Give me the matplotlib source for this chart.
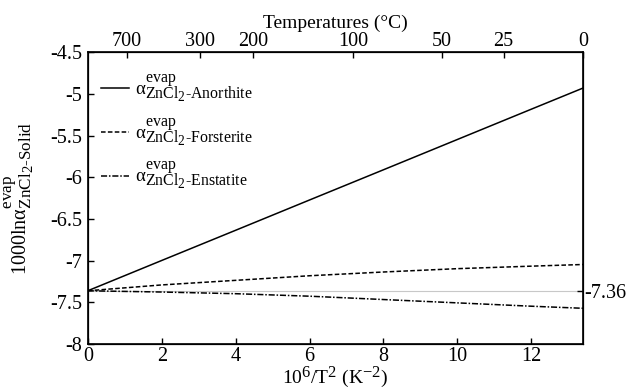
import numpy as np
import matplotlib
matplotlib.use("Agg")
import matplotlib.pyplot as plt
import matplotlib._mathtext as mathtext_impl

plt.rcParams['font.family'] = ['Liberation Serif', 'DejaVu Serif']
plt.rcParams['mathtext.fontset'] = 'custom'
plt.rcParams['mathtext.rm'] = 'Liberation Serif'
plt.rcParams['mathtext.it'] = 'Liberation Serif:italic'
# scripts in the original are nearly full size
mathtext_impl.SHRINK_FACTOR = 0.85

# Data
x = [0, 2, 4, 6, 8, 10, 12, 13.403]
anorthite = [-7.36, -6.997, -6.635, -6.272, -5.91, -5.547, -5.184, -4.93]
forsterite = [-7.36, -7.29, -7.235, -7.18, -7.135, -7.095, -7.065, -7.045]
enstatite = [-7.36, -7.375, -7.395, -7.425, -7.465, -7.505, -7.545, -7.57]
ref_value = -7.36
temps_c = [700, 300, 200, 100, 50, 25, 0]

fs = 14.5
fig = plt.figure(figsize=(6.27, 3.92), dpi=100)
ax = fig.add_axes([0.140, 0.122, 0.790, 0.745])

ax.axhline(ref_value, color='#c8c8c8', lw=0.8, zorder=1)
lab = r'$\mathrm{α}^{\rm evap}_{\rm ZnCl_2\text{-}%s}$'
ax.plot(x, anorthite, color='black', lw=1.1, ls='-', label=lab % 'Anorthite')
ax.plot(x, forsterite, color='black', lw=1.1, ls=(0, (3, 1.5)), label=lab % 'Forsterite')
ax.plot(x, enstatite, color='black', lw=1.1, ls=(0, (4, 1.2, 1, 1.2)), label=lab % 'Enstatite')

ax.set_xlim(0, 1e6 / 273.15 ** 2)
ax.set_ylim(-8, -4.5)
ax.set_xticks([0, 2, 4, 6, 8, 10, 12])
ax.set_yticks([-8, -7.5, -7, -6.5, -6, -5.5, -5, -4.5])
ax.set_yticklabels(['-8', '-7.5', '-7', '-6.5', '-6', '-5.5', '-5', '-4.5'])
ax.set_xticklabels(['0', '2', '4', '6', '8', '10', '12'])
ax.tick_params(direction='in', labelsize=fs, length=4, width=1, pad=2)
ax.tick_params(axis='y', pad=4)
for s in ax.spines.values():
    s.set_linewidth(1.2)

ax.set_xlabel(r'$10^6$/T$^2$ (K$^{-2}$)', fontsize=14, labelpad=-1)
ax.set_ylabel(r'1000ln$\mathrm{α}^{\rm evap}_{\rm ZnCl_2\text{-}Solid}$', fontsize=fs, labelpad=10)

# top temperature axis
top = ax.twiny()
top.set_xlim(ax.get_xlim())
top.set_xticks([1e6 / (t + 273.15) ** 2 for t in temps_c])
top.set_xticklabels([str(t) for t in temps_c])
top.tick_params(direction='in', labelsize=fs, length=4, width=1, pad=1)
top.set_xlabel('Temperatures (°C)', fontsize=14, labelpad=3)

# right reference tick
right = ax.twinx()
right.set_ylim(ax.get_ylim())
right.set_yticks([ref_value])
right.set_yticklabels(['-7.36'])
right.tick_params(direction='in', labelsize=fs, length=4, width=1, pad=1)

ax.legend(loc='upper left', frameon=False, fontsize=13.5, handlelength=1.5,
          handletextpad=0.3, labelspacing=0.65, borderaxespad=0.3,
          bbox_to_anchor=(0.0, 0.975))

fig.savefig('out.png', dpi=100)
